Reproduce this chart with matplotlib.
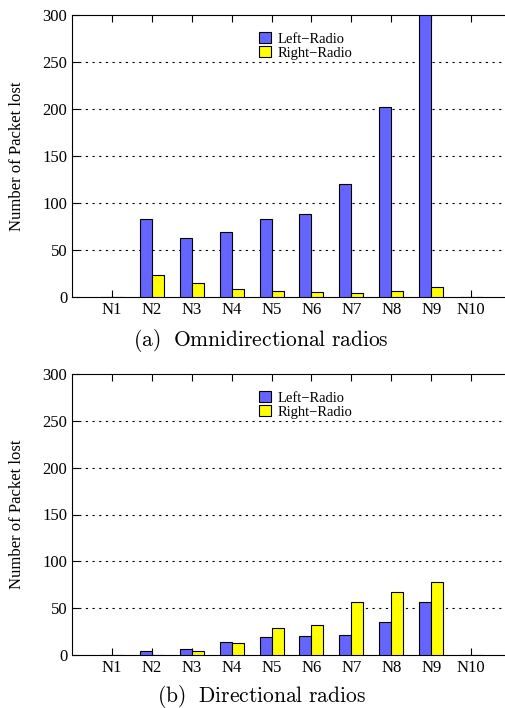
import matplotlib
matplotlib.use("Agg")
import matplotlib.pyplot as plt
import numpy as np

plt.rcParams['mathtext.fontset'] = 'cm'

# node names on the x axis
nodes = ["N1", "N2", "N3", "N4", "N5", "N6", "N7", "N8", "N9", "N10"]

# (a) omnidirectional radios
omni_left = [0, 83, 63, 69, 83, 88, 120, 202, 300, 0]
omni_right = [0, 23, 15, 9, 6, 5, 4, 6, 11, 0]

# (b) directional radios
dir_left = [0, 4, 6, 14, 19, 20, 21, 35, 57, 0]
dir_right = [0, 0, 4, 13, 29, 32, 57, 67, 78, 0]

BLUE = "#6464ff"
YELLOW = "#ffff00"
W = 0.3


def draw_panel(ax, left, right):
    x = np.arange(1, len(nodes) + 1)
    ax.bar(x - W / 2, left, W, color=BLUE, edgecolor="black", linewidth=0.8,
           label="Left\u2212Radio", zorder=3)
    ax.bar(x + W / 2, right, W, color=YELLOW, edgecolor="black", linewidth=0.8,
           label="Right\u2212Radio", zorder=3)
    ax.set_xlim(0, 10.85)
    ax.set_ylim(0, 300)
    ax.set_yticks(range(0, 301, 50))
    ax.set_xticks(x)
    ax.set_xticklabels(nodes)
    for y in range(50, 300, 50):
        ax.axhline(y, color="black", linestyle=(0, (2, 4)), linewidth=0.8, zorder=1)
    ax.tick_params(direction="in", top=True, right=False, length=5, width=0.8,
                   labelsize=12)
    for lab in ax.get_xticklabels() + ax.get_yticklabels():
        lab.set_family("Liberation Serif")
    ax.set_ylabel("Number of Packet lost", fontsize=12, family="Liberation Serif")
    ax.yaxis.set_label_coords(-0.108, 0.5)
    ax.spines["right"].set_visible(False)
    ax.legend(loc="upper left", bbox_to_anchor=(0.415, 0.965), frameon=False,
              prop={"family": "Liberation Serif", "size": 10.5},
              handlelength=0.8, handleheight=0.8, handletextpad=0.5,
              labelspacing=0.02, borderpad=0)


fig = plt.figure(figsize=(5.05, 7.08), dpi=100)
ax1 = fig.add_axes([72 / 505, 1 - 297 / 708, 433 / 505, 282 / 708])
ax2 = fig.add_axes([72 / 505, 1 - 655 / 708, 433 / 505, 281 / 708])

draw_panel(ax1, omni_left, omni_right)
draw_panel(ax2, dir_left, dir_right)

fig.text(261 / 505, 1 - 340 / 708, r"$\mathrm{(a)\ \ Omnidirectional\ radios}$",
         ha="center", va="center", fontsize=15.5)
fig.text(261 / 505, 1 - 696 / 708, r"$\mathrm{(b)\ \ Directional\ radios}$",
         ha="center", va="center", fontsize=15.5)

fig.savefig("out.png", dpi=100)
